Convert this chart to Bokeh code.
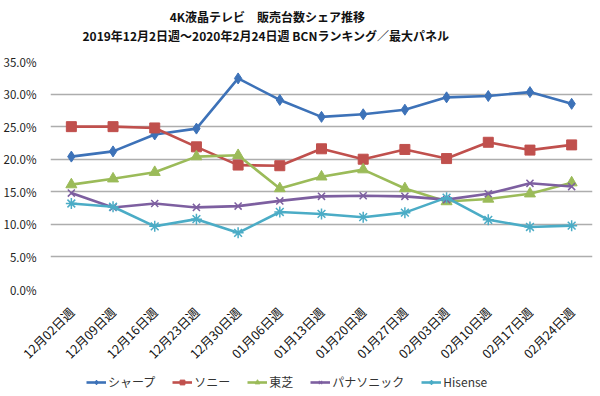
from bokeh.plotting import figure
from bokeh.layouts import column
from bokeh.models import (FactorRange, Range1d, Legend, LegendItem,
                          PrintfTickFormatter, SingleIntervalTicker)
from bokeh.core.properties import value
from bokeh.embed import file_html
from bokeh.resources import INLINE
import math

weeks = ["12月02日週", "12月09日週", "12月16日週", "12月23日週", "12月30日週",
         "01月06日週", "01月13日週", "01月20日週", "01月27日週", "02月03日週",
         "02月10日週", "02月17日週", "02月24日週"]

sharp = [20.4, 21.2, 23.8, 24.7, 32.4, 29.1, 26.5, 26.9, 27.6, 29.5, 29.7, 30.3, 28.5]
sony = [25.0, 25.0, 24.8, 21.9, 19.1, 19.0, 21.6, 20.0, 21.5, 20.1, 22.6, 21.4, 22.2]
toshiba = [16.1, 17.0, 18.0, 20.4, 20.6, 15.5, 17.3, 18.4, 15.5, 13.5, 13.9, 14.7, 16.4]
panasonic = [14.8, 12.6, 13.2, 12.6, 12.8, 13.6, 14.3, 14.4, 14.3, 13.8, 14.7, 16.3, 15.8]
hisense = [13.2, 12.7, 9.7, 10.8, 8.7, 11.9, 11.6, 11.1, 11.8, 14.1, 10.7, 9.6, 9.8]

series_names = ["シャープ", "ソニー", "東芝", "パナソニック", "Hisense"]
title_lines = ["4K液晶テレビ　販売台数シェア推移",
               "2019年12月2日週～2020年2月24日週  BCNランキング／最大パネル"]

FONT = "Noto Sans CJK JP"
colors = ["#3D72B8", "#C0504D", "#9BBB59", "#7D5FA0", "#4BACC6"]
markers = ["diamond", "square", "triangle", "x", "asterisk"]
sizes = [11, 10, 11, 10, 11]
data = [sharp, sony, toshiba, panasonic, hisense]


def bare_figure(w, h, xr, yr):
    fig = figure(width=w, height=h, x_range=xr, y_range=yr,
                 x_axis_location=None, y_axis_location=None,
                 output_backend="svg", toolbar_location=None, min_border=0)
    fig.grid.grid_line_color = None
    fig.outline_line_color = None
    return fig


# ---- header with the two title lines ----
HEAD_H = 46
head = bare_figure(600, HEAD_H, Range1d(0, 600), Range1d(HEAD_H, 0))
head.text(x=[240, 240], y=[16, 35], text=title_lines, text_align="center",
          text_baseline="middle", text_font=value(FONT),
          text_font_size="12px", text_font_style="bold", text_color="#111111")

# ---- main chart ----
MAIN_H = 326
p = figure(width=600, height=MAIN_H, x_range=FactorRange(*weeks, range_padding=0),
           y_range=Range1d(0, 35), output_backend="svg", toolbar_location=None,
           min_border_left=50, min_border_right=8, min_border_top=15,
           min_border_bottom=MAIN_H - 15 - 230)
p.outline_line_color = None

p.xgrid.grid_line_color = None
p.ygrid.grid_line_color = "#ADADAD"
p.ygrid.grid_line_width = 1.3

p.yaxis.ticker = SingleIntervalTicker(interval=5)
p.yaxis.formatter = PrintfTickFormatter(format="%.1f%%")
p.yaxis.axis_line_color = None
p.yaxis.major_tick_line_color = None
p.yaxis.minor_tick_line_color = None
p.yaxis.major_label_standoff = 8
p.yaxis.major_label_text_font = FONT
p.yaxis.major_label_text_font_size = "11.5px"
p.yaxis.major_label_text_color = "#222222"

p.xaxis.axis_line_color = None
p.xaxis.major_tick_line_color = None
p.xaxis.minor_tick_line_color = None
p.xaxis.major_label_orientation = math.pi / 4
p.xaxis.major_label_standoff = 14
p.xaxis.major_label_text_font = FONT
p.xaxis.major_label_text_font_size = "12.5px"
p.xaxis.major_label_text_color = "#111111"

for name, vals, c, m, s in zip(series_names, data, colors, markers, sizes):
    p.line(weeks, vals, line_color=c, line_width=2.6)
    if m in ("x", "asterisk"):
        p.scatter(weeks, vals, marker=m, size=s, line_color=c, line_width=1.5)
    else:
        p.scatter(weeks, vals, marker=m, size=s, fill_color=c, line_color=c)

# ---- legend strip (proxy renderers kept outside the visible range) ----
LEG_H = 396 - HEAD_H - MAIN_H
lf = bare_figure(600, LEG_H, Range1d(0, 1), Range1d(0, 1))
items = []
for name, c, m, s in zip(series_names, colors, markers, sizes):
    r1 = lf.line(x=[5, 6], y=[5, 6], line_color=c, line_width=2.6)
    if m in ("x", "asterisk"):
        r2 = lf.scatter(x=[5], y=[5], marker=m, size=s - 3, line_color=c, line_width=1.2)
    else:
        r2 = lf.scatter(x=[5], y=[5], marker=m, size=s - 3, fill_color=c, line_color=c)
    items.append(LegendItem(label=name, renderers=[r1, r2]))

legend = Legend(items=items, orientation="horizontal", location=(36, 6),
                padding=0, margin=0, spacing=17, label_standoff=2,
                glyph_width=20, glyph_height=12, border_line_color=None,
                background_fill_alpha=0, label_text_font=FONT,
                label_text_font_size="12px", label_text_color="#333333",
                label_height=12)
lf.add_layout(legend, "center")

layout = column(head, p, lf, spacing=0)
open("out.html", "w").write(file_html(layout, INLINE))
